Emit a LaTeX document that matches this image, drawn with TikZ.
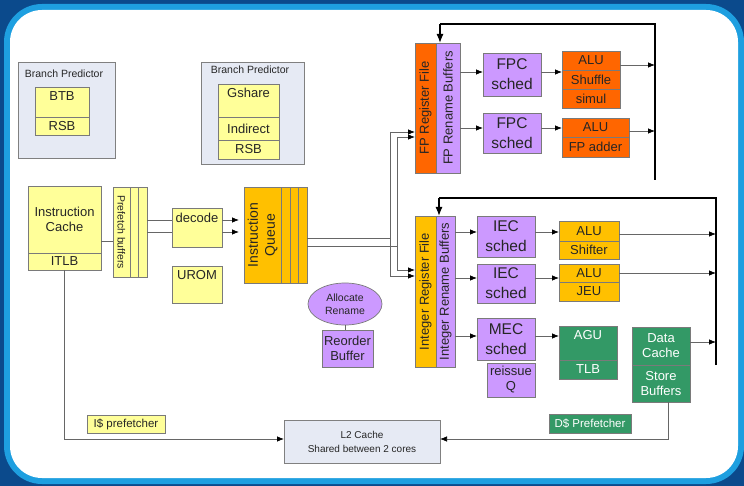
\documentclass[tikz,border=0pt]{standalone}
\usepackage{fontspec}
\setmainfont{Liberation Sans}
\usetikzlibrary{arrows.meta,calc,shapes.geometric}
\definecolor{bgblue}{HTML}{0B4A8C}
\definecolor{ring}{HTML}{1E9FE0}
\definecolor{ylw}{HTML}{FFFF99}
\definecolor{gold}{HTML}{FFC000}
\definecolor{orng}{HTML}{FF6600}
\definecolor{purp}{HTML}{CC99FF}
\definecolor{grn}{HTML}{339966}
\definecolor{bpbg}{HTML}{E6EAF4}
\definecolor{edge}{HTML}{7A7A7A}
\newcommand\fsz[2]{\fontsize{#1}{#2}\selectfont}
\newcommand\bx[7]{\node[#2,minimum width={(#5-#3)*1pt},minimum height={(#6-#4)*1pt}] (#1) at ({(#3+#5)/2},{(#4+#6)/2}) {#7};}
\begin{document}
\begin{tikzpicture}[x=1pt,y=-1pt,
  box/.style={draw=edge,line width=0.7pt,inner sep=0pt,outer sep=0pt,align=center,font=\fsz{13}{15},text=black!85},
  yb/.style={box,fill=ylw},
  gb/.style={box,fill=gold},
  ob/.style={box,fill=orng},
  pb/.style={box,fill=purp},
  grb/.style={box,fill=grn,text=white},
  bpb/.style={box,fill=bpbg,draw=gray},
  lbl/.style={inner sep=0pt,align=center,font=\fsz{13}{15},text=black!85},
  gl/.style={draw=black!60,line width=0.75pt},
  arr/.style={gl,-{Latex[length=7pt,width=5.5pt,color=black]}},
  fb/.style={draw=black,line width=1.3pt},
  fbarr/.style={fb,-{Latex[length=9pt,width=7pt]}},
  big/.style={font=\fsz{15.5}{20}}
]
\useasboundingbox (0,0) rectangle (744,486);
\fill[bgblue] (0,0) rectangle (744,486);
\fill[ring,rounded corners=38pt] (4,4) rectangle (744,484);
\fill[white,rounded corners=32pt] (10,10) rectangle (738,478);

% level coordinates
\foreach \v in {65,72,128,131,220,232,234,238,241,246,273,278,336,342,439}{\coordinate (y\v) at (0,\v);}

% Branch predictor 1
\bx{bpa}{bpb}{18}{62}{115}{158}{}
\node[lbl,font=\fsz{10.5}{12}] (bpat) at (64,74) {Branch Predictor};
\bx{btb}{yb}{35}{87}{89}{117}{}
\node[lbl] (btbt) at (62,96) {BTB};
\bx{rsba}{yb}{35}{117}{89}{135}{RSB}

% Branch predictor 2
\bx{bpb2}{bpb}{201}{62}{304}{164}{}
\node[lbl,font=\fsz{10.5}{12}] (bpbt) at (250,70) {Branch Predictor};
\bx{gsh}{yb}{218}{84}{279}{117}{}
\node[lbl] (gsht) at (248.5,93) {Gshare};
\bx{ind}{yb}{218}{117}{279}{140}{Indirect}
\bx{rsbb}{yb}{218}{140}{279}{159}{RSB}

% Front end
\bx{ic}{yb}{28}{186}{101}{253}{Instruction\\Cache}
\bx{itlb}{yb}{28}{253}{101}{270}{ITLB}
\bx{pfa}{yb}{113}{187}{130}{277}{}
\bx{pfb}{yb}{130}{187}{138}{277}{}
\bx{pfc}{yb}{138}{187}{147}{277}{}
\node[lbl,rotate=-90,font=\fsz{10.5}{12}] (pft) at (pfa) {Prefetch buffers};
\bx{dec}{yb}{172}{208}{222}{247}{}
\node[lbl] (dect) at (197,218) {decode};
\bx{urom}{yb}{172}{266}{222}{303}{}
\node[lbl] (uromt) at (197,275) {UROM};
\bx{iqa}{gb}{244}{187}{281}{283}{}
\bx{iqb}{gb}{281}{187}{290}{283}{}
\bx{iqc}{gb}{290}{187}{298}{283}{}
\bx{iqd}{gb}{298}{187}{307}{283}{}
\node[lbl,rotate=90,font=\fsz{14}{17}] (iqt) at (iqa) {Instruction\\Queue};

\draw[gl] (ic.east|-y241) -- (pfa.west|-y241);
\draw[gl] (pfc.east|-y220) -- (dec.west|-y220);
\draw[gl] (pfc.east|-y232) -- (dec.west|-y232);
\draw[arr,shorten >=5pt] (dec.east|-y220) -- (iqa.west|-y220);
\draw[arr,shorten >=5pt] (dec.east|-y232) -- (iqa.west|-y232);

% FP cluster
\bx{fprf}{ob}{415}{43}{436}{173}{}
\bx{fprb}{pb}{436}{43}{460}{173}{}
\node[lbl,rotate=90] (fprft) at (fprf) {FP Register File};
\node[lbl,rotate=90] (fprbt) at (fprb) {FP Rename Buffers};
\bx{fpc1}{pb,big}{483}{53}{541}{96}{FPC\\sched}
\bx{fpc2}{pb,big}{483}{113}{541}{153}{FPC\\sched}
\bx{fa1}{ob}{562}{51}{620}{70}{ALU}
\bx{fsh}{ob}{562}{70}{620}{89}{Shuffle}
\bx{fsm}{ob}{562}{89}{620}{108}{simul}
\bx{fa2}{ob}{562}{118}{629}{137}{ALU}
\bx{fad}{ob}{562}{137}{629}{157}{FP adder}

% Integer cluster
\bx{irf}{gb}{415}{216}{436}{367}{}
\bx{irb}{pb}{436}{216}{455}{367}{}
\node[lbl,rotate=90] (irft) at (irf) {Integer Register File};
\node[lbl,rotate=90] (irbt) at (irb) {Integer Rename Buffers};
\bx{iec1}{pb,big}{477}{216}{535}{257}{IEC\\sched}
\bx{iec2}{pb,big}{477}{264}{535}{303}{IEC\\sched}
\bx{mec}{pb,big}{477}{318}{535}{360}{MEC\\sched}
\bx{reis}{pb}{487}{363}{535}{397}{reissue\\Q}
\bx{ia1}{gb}{559}{221}{619}{241}{ALU}
\bx{ish}{gb}{559}{241}{619}{259}{Shifter}
\bx{ia2}{gb}{559}{264}{619}{282}{ALU}
\bx{jeu}{gb}{559}{282}{619}{301}{JEU}
\bx{agu}{grb}{559}{326}{617}{360}{}
\node[lbl,text=white] (agut) at (588,335) {AGU};
\bx{tlb}{grb}{559}{360}{617}{379}{TLB}
\bx{dc}{grb}{632}{327}{690}{365}{Data\\Cache}
\bx{sb}{grb}{632}{365}{690}{402}{Store\\Buffers}

% Allocate / ROB
\node[ellipse,draw=edge,line width=0.7pt,fill=purp,minimum width=74pt,minimum height=42pt,inner sep=0pt,align=center,font=\fsz{10.5}{12.5},text=black!85] (alloc) at (345,304) {Allocate\\Rename};
\bx{rob}{pb}{322}{330}{373}{367}{Reorder\\Buffer}
\draw[gl] (alloc.south) -- (rob.north-|alloc.south);

% Bottom
\bx{l2}{bpb,font=\fsz{10}{14}}{284}{420}{440}{463}{L2 Cache\\Shared between 2 cores}
\bx{ipf}{yb,font=\fsz{11.5}{13}}{87}{415}{165}{433}{I\$ prefetcher}
\bx{dpf}{grb,font=\fsz{11.5}{13}}{549}{414}{631}{433}{D\$ Prefetcher}

% IQ to register files
\coordinate (jat) at (390,132);
\coordinate (jab) at (390,276);
\coordinate (jbt) at (397,137);
\coordinate (jbb) at (397,270);
\draw[gl] (iqd.east|-y238) -- (jat|-y238);
\draw[gl] (iqd.east|-y246) -- (jbt|-y246);
\draw[gl] (jat) -- (jab);
\draw[gl] (jbt) -- (jbb);
\draw[arr] (jat) -- (fprf.west|-jat);
\draw[arr] (jbt) -- (fprf.west|-jbt);
\draw[arr] (jab) -- (irf.west|-jab);
\draw[arr] (jbb) -- (irf.west|-jbb);

% FP connectors
\draw[arr] (fprb.east|-y72) -- (fpc1.west|-y72);
\draw[arr] (fprb.east|-y128) -- (fpc2.west|-y128);
\draw[arr] (fpc1.east|-y72) -- (fsh.west|-y72);
\draw[arr] (fpc2.east|-y128) -- (fa2.west|-y128);
\coordinate (fpbot) at (655,180);
\coordinate (fptr) at (655,24);
\coordinate (fptl) at (440,24);
\draw[fb] (fpbot) -- (fptr) -- (fptl);
\draw[fbarr] (fptl) -- (fprb.north-|fptl);
\draw[arr] (fa1.east|-y65) -- (fptr|-y65);
\draw[arr] (fa2.east|-y131) -- (fptr|-y131);

% Integer connectors
\draw[arr] (irb.east|-y232) -- (iec1.west|-y232);
\draw[arr] (irb.east|-y278) -- (iec2.west|-y278);
\draw[arr] (irb.east|-y336) -- (mec.west|-y336);
\draw[arr] (iec1.east|-y232) -- (ia1.west|-y232);
\draw[arr] (iec2.east|-y278) -- (ia2.west|-y278);
\draw[arr] (mec.east|-y336) -- (agu.west|-y336);
\coordinate (intbot) at (716,365);
\coordinate (inttr) at (716,198);
\coordinate (inttl) at (439,198);
\draw[fb] (intbot) -- (inttr) -- (inttl);
\draw[fbarr] (inttl) -- (irb.north-|inttl);
\draw[arr] (ia1.east|-y234) -- (inttr|-y234);
\draw[arr] (ia2.east|-y273) -- (inttr|-y273);
\draw[arr] (dc.east|-y342) -- (inttr|-y342);

% to L2
\draw[arr] (itlb.south) |- (l2.west|-y439);
\draw[arr] ($(sb.south)+(7,0)$) |- (l2.east|-y439);
\end{tikzpicture}
\end{document}
